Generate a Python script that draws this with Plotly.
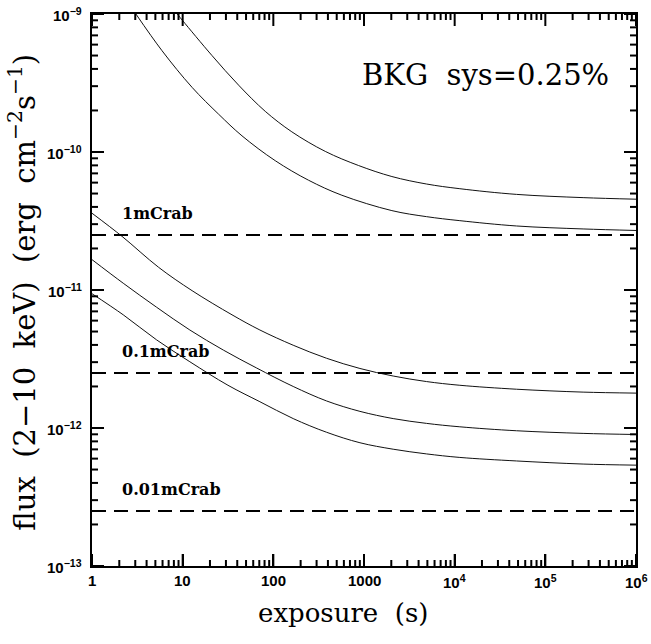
import math
import plotly.graph_objects as go

# ---- data ----
t_a = [8.71, 10.0, 21.0, 41.4, 81.5, 160, 374, 871, 2030, 4900, 11400, 48100, 261000, 1e6]
f_a = [1.0e-9, 8.95e-10, 5.01e-10, 3.05e-10, 1.97e-10, 1.40e-10, 1.01e-10, 7.98e-11, 6.64e-11, 5.86e-11,
       5.42e-11, 4.93e-11, 4.67e-11, 4.55e-11]

t_b = [3.05, 5.92, 12.7, 24.9, 45.1, 105, 245, 570, 2030, 4900, 11400, 48100, 261000, 1e6]
f_b = [1.0e-9, 5.42e-10, 2.94e-10, 1.88e-10, 1.31e-10, 8.65e-11, 6.24e-11, 4.86e-11, 3.76e-11, 3.40e-11,
       3.18e-11, 2.91e-11, 2.77e-11, 2.70e-11]

t_c = [1, 2.14, 5.43, 12.7, 35.0, 71.1, 165.6, 387, 902, 2099, 4898, 11400, 48100, 261000, 1e6]
f_c = [3.6e-11, 2.45e-11, 1.46e-11, 9.89e-12, 6.61e-12, 5.13e-12, 3.98e-12, 3.20e-12, 2.70e-12, 2.38e-12,
       2.17e-12, 2.04e-12, 1.91e-12, 1.82e-12, 1.79e-12]

t_d = [1, 2.21, 5.16, 12.0, 28.1, 65.5, 165.6, 387, 902, 2099, 4898, 11400, 48100, 261000, 1e6]
f_d = [1.66e-11, 1.12e-11, 7.50e-12, 5.13e-12, 3.67e-12, 2.72e-12, 2.0e-12, 1.57e-12, 1.32e-12, 1.17e-12,
       1.08e-12, 1.02e-12, 9.55e-13, 9.14e-13, 8.97e-13]

t_e = [1, 2.21, 5.16, 12.0, 31.6, 71.1, 165.6, 387, 902, 2099, 4898, 11400, 48100, 261000, 1e6]
f_e = [9.40e-12, 6.61e-12, 4.35e-12, 3.02e-12, 2.04e-12, 1.55e-12, 1.17e-12, 9.31e-13, 7.82e-13, 7.02e-13,
       6.49e-13, 6.12e-13, 5.77e-13, 5.48e-13, 5.38e-13]

crab_levels = [2.5e-11, 2.5e-12, 2.5e-13]
crab_labels = ["1mCrab", "0.1mCrab", "0.01mCrab"]
x_span = [1, 1e6]
y_span = [1e-13, 1e-9]

x_tickvals = [1, 10, 100, 1000, 1e4, 1e5, 1e6]
x_ticktext = ["<b>1</b>", "<b>10</b>", "<b>100</b>", "<b>1000</b>",
              "<b>10<sup>4</sup></b>", "<b>10<sup>5</sup></b>", "<b>10<sup>6</sup></b>"]
y_tickvals = [1e-13, 1e-12, 1e-11, 1e-10, 1e-9]
y_ticktext = ["<b>10<sup>−13</sup></b>", "<b>10<sup>−12</sup></b>", "<b>10<sup>−11</sup></b>",
              "<b>10<sup>−10</sup></b>", "<b>10<sup>−9</sup></b>"]

x_minor = [m * 10 ** e for e in range(0, 6) for m in range(2, 10)]
y_minor = [m * 10.0 ** e for e in range(-13, -9) for m in range(2, 10)]

# ---- layout geometry ----
W, H = 651, 644
ML, MR, MT, MB = 92, 15, 14, 78
px_per_dec_x = (W - ML - MR) / math.log10(x_span[1] / x_span[0])
px_per_dec_y = (H - MT - MB) / math.log10(y_span[1] / y_span[0])

fig = go.Figure()
for tt, ff in [(t_a, f_a), (t_b, f_b), (t_c, f_c), (t_d, f_d), (t_e, f_e)]:
    fig.add_trace(go.Scatter(x=tt, y=ff, mode="lines",
                             line=dict(color="#111111", width=1, shape="spline", smoothing=1.0)))

for lvl, lab in zip(crab_levels, crab_labels):
    fig.add_trace(go.Scatter(x=x_span, y=[lvl, lvl], mode="lines",
                             line=dict(color="black", width=2, dash="14px,8px")))
    fig.add_annotation(x=0.31, y=math.log10(lvl), xref="x", yref="y", text="<b>" + lab + "</b>",
                       showarrow=False, xanchor="left", yanchor="bottom", yshift=10,
                       font=dict(family="DejaVu Serif", size=16, color="black"))

# ---- minor and mirrored inside tick marks ----
tx, ty = [], []
for vals, ln in [(x_tickvals, 12), (x_minor, 6)]:
    fy = 10 ** (ln / px_per_dec_y)
    for v in vals:
        tx += [v, v, None, v, v, None]
        ty += [y_span[0], y_span[0] * fy, None, y_span[1], y_span[1] / fy, None]
for vals, ln in [(y_tickvals, 12), (y_minor, 6)]:
    fx = 10 ** (ln / px_per_dec_x)
    for v in vals:
        tx += [x_span[0], x_span[0] * fx, None, x_span[1], x_span[1] / fx, None]
        ty += [v, v, None, v, v, None]
fig.add_trace(go.Scatter(x=tx, y=ty, mode="lines", line=dict(color="black", width=2), connectgaps=False))

# ---- tick labels ----
lab_font = dict(family="Liberation Sans", size=15, color="black")
for v, s in zip(x_tickvals, x_ticktext):
    fig.add_annotation(x=math.log10(v), y=0, xref="x", yref="paper", text=s, showarrow=False,
                       xanchor="center", yanchor="top", yshift=-4, font=lab_font)
for v, s in zip(y_tickvals, y_ticktext):
    fig.add_annotation(x=0, y=math.log10(v), xref="paper", yref="y", text=s, showarrow=False,
                       xanchor="right", yanchor="middle", xshift=-8, font=lab_font)

fig.add_annotation(x=0.724, y=0.889, xref="paper", yref="paper", text="BKG  sys=0.25%", showarrow=False,
                   xanchor="center", yanchor="middle",
                   font=dict(family="DejaVu Serif", size=29, color="black"))

fig.add_annotation(x=-0.1287, y=0.497, xref="paper", yref="paper",
                   text="flux  (2−10  keV)  (erg  cm<sup>−2</sup>s<sup>−1</sup>)", showarrow=False,
                   textangle=-90, xanchor="center", yanchor="middle",
                   font=dict(family="DejaVu Serif", size=29, color="black"))

fig.add_annotation(x=0.461, y=-0.085, xref="paper", yref="paper", text="exposure  (s)", showarrow=False,
                   xanchor="center", yanchor="middle",
                   font=dict(family="DejaVu Serif", size=26, color="black"))

fig.update_layout(
    xaxis=dict(type="log", range=[0, 6], showline=True, linecolor="black", linewidth=2, mirror=True,
               ticks="inside", ticklen=12, tickwidth=2, tickcolor="black", tickvals=x_tickvals,
               showticklabels=False),
    yaxis=dict(type="log", range=[-13, -9], showline=True, linecolor="black", linewidth=2, mirror=True,
               ticks="inside", ticklen=12, tickwidth=2, tickcolor="black", tickvals=y_tickvals,
               showticklabels=False),
    width=W, height=H, margin=dict(l=ML, r=MR, t=MT, b=MB, autoexpand=False),
    plot_bgcolor="white", paper_bgcolor="white", showlegend=False)

fig.write_html("out.html", config={"displayModeBar": False},
               post_script="document.body.style.margin='0';")
